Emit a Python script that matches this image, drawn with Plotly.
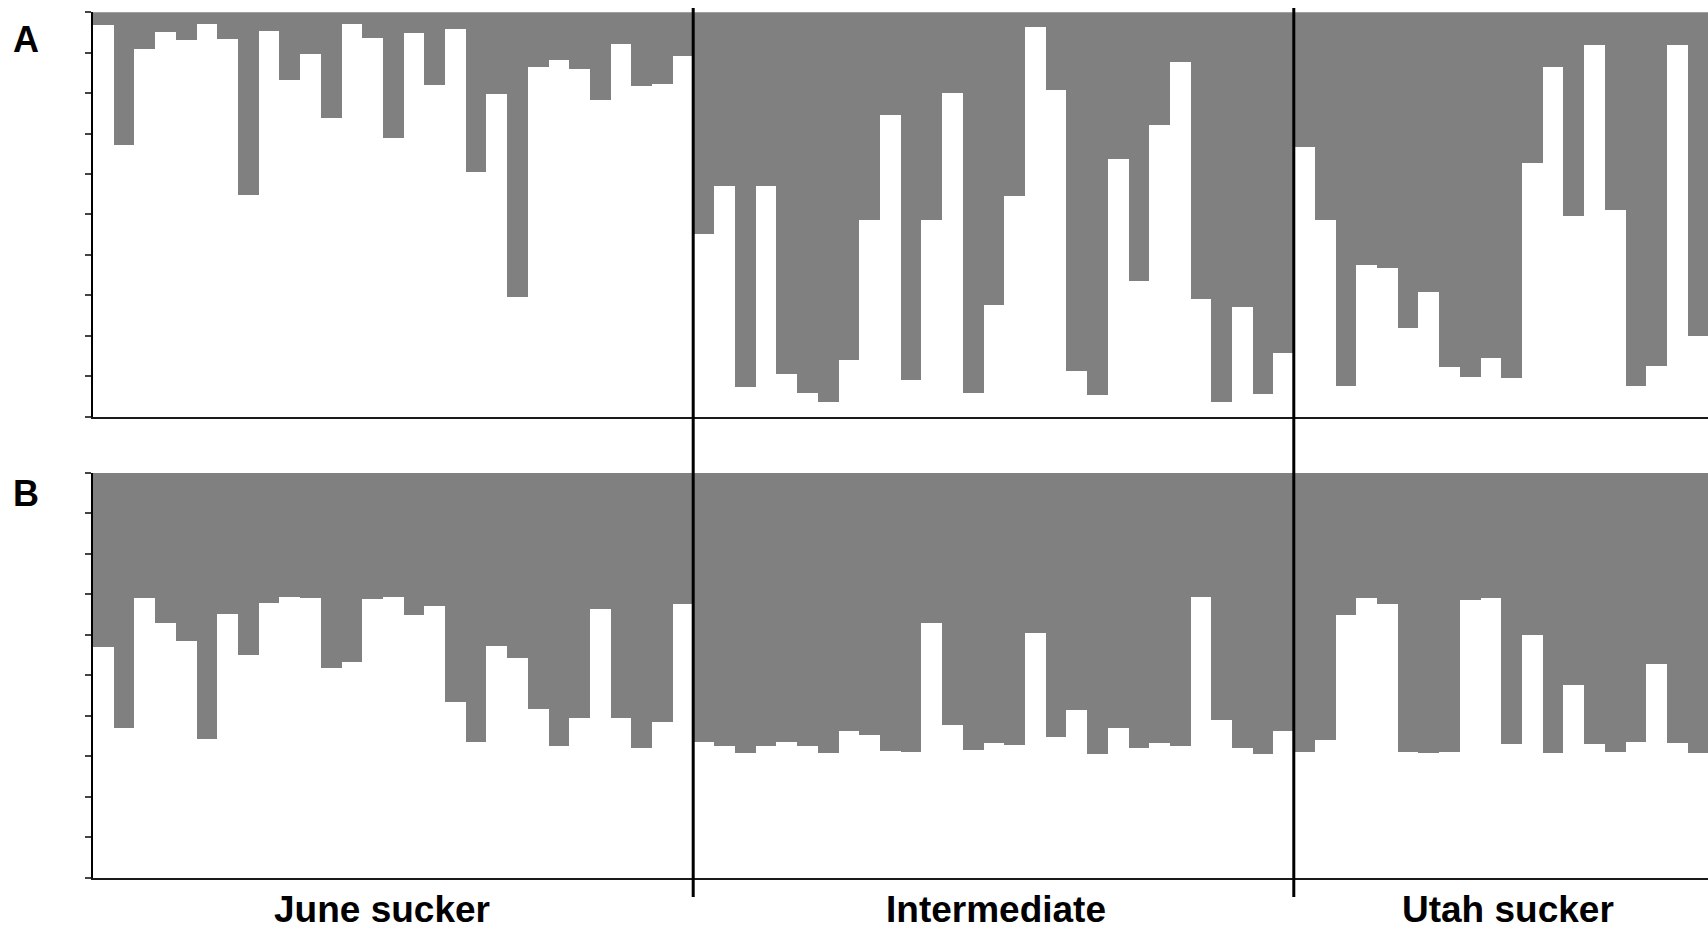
import plotly.graph_objects as go

# Admixture proportions (white, lower segment) per individual; the grey upper
# segment is the remaining share of each bar.
groups = ["June sucker", "Intermediate", "Utah sucker"]

june_a = [0.967, 0.670, 0.908, 0.951, 0.930, 0.971, 0.932, 0.547, 0.954, 0.833,
          0.895, 0.739, 0.971, 0.935, 0.688, 0.949, 0.819, 0.959, 0.603, 0.796,
          0.294, 0.863, 0.882, 0.858, 0.782, 0.920, 0.816, 0.821, 0.890]
inter_a = [0.452, 0.570, 0.072, 0.570, 0.104, 0.057, 0.035, 0.138, 0.486, 0.744,
           0.089, 0.485, 0.800, 0.057, 0.275, 0.546, 0.964, 0.806, 0.111, 0.052,
           0.637, 0.334, 0.721, 0.877, 0.289, 0.035, 0.271, 0.054, 0.156]
utah_a = [0.667, 0.485, 0.074, 0.375, 0.366, 0.218, 0.308, 0.121, 0.096, 0.143,
          0.094, 0.627, 0.865, 0.495, 0.919, 0.509, 0.074, 0.124, 0.919, 0.198]

june_b = [0.570, 0.370, 0.691, 0.630, 0.585, 0.343, 0.652, 0.551, 0.678, 0.694,
          0.691, 0.519, 0.533, 0.688, 0.694, 0.649, 0.672, 0.435, 0.336, 0.572,
          0.542, 0.417, 0.326, 0.395, 0.663, 0.395, 0.321, 0.385, 0.676]
inter_b = [0.337, 0.326, 0.309, 0.326, 0.335, 0.326, 0.309, 0.362, 0.352, 0.314,
           0.311, 0.629, 0.377, 0.316, 0.333, 0.328, 0.604, 0.348, 0.414, 0.306,
           0.370, 0.321, 0.333, 0.326, 0.693, 0.389, 0.321, 0.306, 0.362]
utah_b = [0.311, 0.340, 0.649, 0.691, 0.676, 0.311, 0.309, 0.311, 0.686, 0.691,
          0.331, 0.599, 0.309, 0.476, 0.331, 0.311, 0.337, 0.528, 0.333, 0.309]

panel_labels = ["A", "B"]
y_ticks = [i / 10 for i in range(11)]

W, H = 1708, 929
GREY = "#808080"
FONT = "Liberation Sans, Arial, sans-serif"

panel_a = june_a + inter_a + utah_a
panel_b = june_b + inter_b + utah_b
sizes = [len(june_a), len(inter_a), len(utah_a)]
n = sum(sizes)
idx = list(range(n))

fig = go.Figure()
for vals, xa, ya in [(panel_a, "x", "y"), (panel_b, "x2", "y2")]:
    fig.add_trace(go.Bar(
        x=idx, y=[1 - v for v in vals], base=vals,
        marker=dict(color=GREY, line=dict(width=0)),
        width=1.0, xaxis=xa, yaxis=ya, showlegend=False, hoverinfo="skip",
    ))

left = 92.6 / W
dom_a = [1 - 416.5 / H, 1 - 12.3 / H]
dom_b = [1 - 877.5 / H, 1 - 472.5 / H]

xcommon = dict(range=[-0.5, n - 0.5], showgrid=False, zeroline=False,
               showticklabels=False, ticks="", showline=True,
               linecolor="#1a1a1a", linewidth=1.5, domain=[left, 1])
ycommon = dict(range=[0, 1], tickvals=y_ticks, showgrid=False, zeroline=False,
               showticklabels=False, ticks="outside", ticklen=6, tickwidth=1.5,
               tickcolor="#444444", showline=True, linecolor="#000000",
               linewidth=1.5)

fig.update_layout(
    width=W, height=H,
    margin=dict(l=0, r=0, t=0, b=0),
    paper_bgcolor="white", plot_bgcolor="white",
    bargap=0, barmode="overlay",
    xaxis=dict(**xcommon, anchor="y"),
    yaxis=dict(**ycommon, domain=dom_a, anchor="x"),
    xaxis2=dict(**xcommon, anchor="y2"),
    yaxis2=dict(**ycommon, domain=dom_b, anchor="x2"),
)

# Vertical separators between the three groups, spanning both panels
bounds = [sizes[0] - 0.5, sizes[0] + sizes[1] - 0.5]
for b in bounds:
    fig.add_shape(type="line", xref="x", yref="paper", x0=b, x1=b,
                  y0=1 - 897 / H, y1=1 - 8 / H,
                  line=dict(color="#000000", width=3))

# Panel letters
for lab, ypx in zip(panel_labels, [39.5, 493.5]):
    fig.add_annotation(text=f"<b>{lab}</b>", xref="paper", yref="paper",
                       x=25.5 / W, y=1 - ypx / H, xanchor="center",
                       yanchor="middle", showarrow=False,
                       font=dict(family=FONT, size=36, color="#000000"))

# Group names under the lower panel
label_px = [381.5, 995.8, 1507.8]
for name, xpx in zip(groups, label_px):
    fig.add_annotation(text=f"<b>{name}</b>", xref="paper", yref="paper",
                       x=xpx / W, y=1 - 909.5 / H, xanchor="center",
                       yanchor="middle", showarrow=False,
                       font=dict(family=FONT, size=37, color="#000000"))

fig.write_html("out.html")
